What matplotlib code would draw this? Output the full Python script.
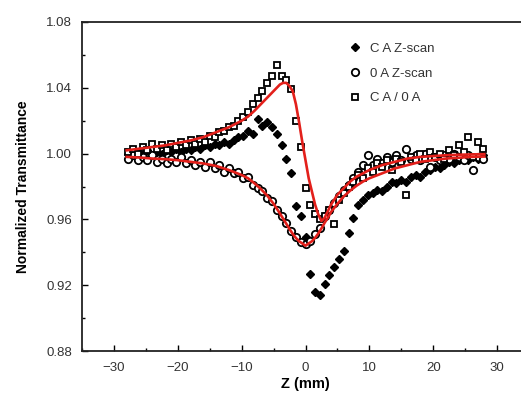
import matplotlib
matplotlib.use("Agg")
import matplotlib.pyplot as plt
from matplotlib.ticker import MultipleLocator, FormatStrFormatter

plt.rcParams['font.family'] = ['Liberation Sans', 'DejaVu Sans']

# Sample positions along the scan (mm)
z = [-27.75, -27, -26.25, -25.5, -24.75, -24, -23.25, -22.5, -21.75, -21,
     -20.25, -19.5, -18.75, -18, -17.25, -16.5, -15.75, -15, -14.25, -13.5,
     -12.75, -12, -11.25, -10.5, -9.75, -9, -8.25, -7.5, -6.75, -6,
     -5.25, -4.5, -3.75, -3, -2.25, -1.5, -0.75, 0, 0.75, 1.5,
     2.25, 3, 3.75, 4.5, 5.25, 6, 6.75, 7.5, 8.25, 9,
     9.75, 10.5, 11.25, 12, 12.75, 13.5, 14.25, 15, 15.75, 16.5,
     17.25, 18, 18.75, 19.5, 20.25, 21, 21.75, 22.5, 23.25, 24,
     24.75, 25.5, 26.25, 27, 27.75]

# Closed-aperture scan
ca_scan = [1.000, 0.999, 1.001, 1.000, 1.002, 0.999, 1.001, 1.000, 1.002, 1.001,
           1.003, 1.001, 1.003, 1.002, 1.004, 1.003, 1.005, 1.004, 1.006, 1.005,
           1.007, 1.006, 1.008, 1.010, 1.011, 1.014, 1.012, 1.021, 1.017, 1.019,
           1.016, 1.012, 1.005, 0.997, 0.988, 0.968, 0.962, 0.949, 0.927, 0.916,
           0.914, 0.921, 0.926, 0.931, 0.936, 0.941, 0.952, 0.961, 0.969, 0.972,
           0.975, 0.976, 0.978, 0.977, 0.980, 0.983, 0.982, 0.984, 0.983, 0.986,
           0.987, 0.986, 0.989, 0.990, 0.992, 0.991, 0.993, 0.995, 0.994, 0.996,
           0.997, 0.996, 0.998, 0.997, 0.999]

# Open-aperture scan
oa_scan = [0.997, 0.999, 0.996, 0.998, 0.996, 0.999, 0.995, 0.997, 0.994, 0.997,
           0.995, 0.998, 0.994, 0.996, 0.993, 0.995, 0.992, 0.995, 0.991, 0.993,
           0.989, 0.991, 0.988, 0.989, 0.985, 0.986, 0.981, 0.979, 0.977, 0.973,
           0.971, 0.966, 0.962, 0.958, 0.953, 0.949, 0.946, 0.945, 0.947, 0.951,
           0.955, 0.962, 0.966, 0.970, 0.974, 0.978, 0.981, 0.985, 0.989, 0.993,
           0.999, 0.993, 0.997, 0.994, 0.998, 0.995, 0.999, 0.996, 1.003, 0.997,
           0.999, 0.996, 1.000, 0.992, 0.998, 0.996, 0.999, 0.997, 1.000, 0.998,
           0.996, 0.999, 0.990, 0.998, 0.997]

# Closed / open ratio
ratio = [1.001, 1.003, 1.000, 1.004, 1.002, 1.006, 1.003, 1.005, 1.002, 1.006,
         1.004, 1.007, 1.005, 1.008, 1.006, 1.009, 1.007, 1.011, 1.010, 1.013,
         1.014, 1.016, 1.017, 1.020, 1.022, 1.025, 1.030, 1.034, 1.038, 1.043,
         1.047, 1.054, 1.047, 1.045, 1.039, 1.020, 1.004, 0.979, 0.969, 0.963,
         0.960, 0.962, 0.966, 0.957, 0.972, 0.976, 0.980, 0.983, 0.987, 0.985,
         0.991, 0.989, 0.994, 0.992, 0.996, 0.990, 0.997, 0.995, 0.975, 0.998,
         0.996, 1.000, 0.997, 1.001, 0.998, 1.000, 0.997, 1.002, 0.999, 1.005,
         1.001, 1.010, 0.998, 1.007, 1.003]

# Fitted curves
fit_z = [-28, -26, -24, -22, -20, -18, -16, -14, -12, -10, -9, -8, -7, -6, -5,
         -4.5, -4, -3.5, -3, -2.5, -2, -1.5, -1, -0.5, 0, 0.5, 1, 1.5, 2, 2.5,
         3, 3.5, 4, 5, 6, 7, 8, 9, 10, 12, 14, 16, 18, 20, 22, 24, 26, 28]
ratio_fit = [1.002, 1.003, 1.004, 1.005, 1.0065, 1.008, 1.010, 1.013, 1.016, 1.020,
             1.0225, 1.026, 1.030, 1.034, 1.038, 1.040, 1.042, 1.043, 1.043, 1.041,
             1.038, 1.030, 1.019, 1.007, 0.996, 0.985, 0.977, 0.969, 0.963, 0.959,
             0.961, 0.965, 0.969, 0.975, 0.979, 0.983, 0.986, 0.988, 0.990, 0.993,
             0.995, 0.997, 0.998, 0.9985, 0.999, 0.9993, 0.9995, 0.9997]
oa_fit = [0.998, 0.9976, 0.997, 0.9966, 0.996, 0.995, 0.994, 0.9925, 0.990, 0.987,
          0.985, 0.982, 0.9785, 0.9745, 0.9695, 0.9666, 0.9636, 0.9604, 0.9573, 0.9541,
          0.9512, 0.9487, 0.9467, 0.9454, 0.944, 0.9454, 0.9467, 0.9488, 0.9514, 0.9545,
          0.958, 0.961, 0.9645, 0.9695, 0.974, 0.9775, 0.9805, 0.983, 0.985, 0.988,
          0.991, 0.993, 0.995, 0.996, 0.997, 0.9975, 0.998, 0.9982]

fig = plt.figure(figsize=(5.21, 3.96), dpi=100)
ax = fig.add_axes([82 / 521, 1 - 351 / 396, (529 - 82) / 521, (351 - 22) / 396])

ax.plot(z, ca_scan, linestyle='none', marker='D', markersize=4.2,
        color='black', label='C A Z-scan', zorder=2)
ax.plot(z, oa_scan, linestyle='none', marker='o', markersize=5.3,
        markerfacecolor='white', markeredgecolor='black', markeredgewidth=1.3,
        label='0 A Z-scan', zorder=2)
ax.plot(z, ratio, linestyle='none', marker='s', markersize=5.0,
        markerfacecolor='white', markeredgecolor='black', markeredgewidth=1.3,
        label='C A / 0 A', zorder=2)

ax.plot(fit_z, ratio_fit, color='#e3201b', linewidth=1.9, zorder=3)
ax.plot(fit_z, oa_fit, color='#e3201b', linewidth=1.9, zorder=3)

ax.set_xlim(-35, 35)
ax.set_ylim(0.88, 1.08)
ax.xaxis.set_major_locator(MultipleLocator(10))
ax.xaxis.set_minor_locator(MultipleLocator(5))
ax.yaxis.set_major_locator(MultipleLocator(0.04))
ax.yaxis.set_minor_locator(MultipleLocator(0.02))
ax.yaxis.set_major_formatter(FormatStrFormatter('%.2f'))
ax.tick_params(which='major', direction='in', length=4, width=1,
               labelsize=9.5, labelcolor='#333333')
ax.tick_params(axis='x', which='major', pad=8)
ax.tick_params(axis='y', which='major', pad=7)
ax.tick_params(which='minor', direction='in', length=2, width=1)
for s in ax.spines.values():
    s.set_linewidth(1.3)
    s.set_color('#222222')

ax.set_xlabel('Z (mm)', fontsize=10.5, fontweight='bold', labelpad=2)
ax.set_ylabel('Normalized Transmittance', fontsize=10, fontweight='bold', labelpad=12)

leg = ax.legend(loc='upper left', bbox_to_anchor=(342 / 521, 1 - 36 / 396),
                bbox_transform=fig.transFigure, frameon=False, fontsize=9.5,
                handlelength=1.0, handletextpad=0.6, labelspacing=0.95,
                borderpad=0, numpoints=1)
for t in leg.get_texts():
    t.set_color('#333333')

fig.savefig('out.png', dpi=100)
